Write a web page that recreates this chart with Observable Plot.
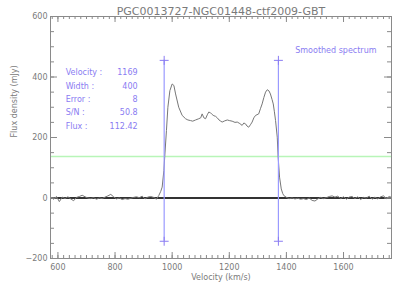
<!DOCTYPE html>
<html>
<head>
<meta charset="utf-8">
<script src="https://cdn.jsdelivr.net/npm/d3@7"></script>
<script src="https://cdn.jsdelivr.net/npm/@observablehq/plot@0.6"></script>
<style>
  html, body { margin: 0; padding: 0; background: #fff; }
</style>
</head>
<body>
<div id="chart"></div>
<script>
const title = "PGC0013727-NGC01448-ctf2009-GBT";
const xLabel = "Velocity (km/s)";
const yLabel = "Flux density (mJy)";
const legendText = "Smoothed spectrum";

const velocity = [
  575, 585, 595, 605, 615, 625, 635, 645, 655, 665, 675, 685, 695, 705, 715, 725, 735, 745, 755, 765,
  775, 785, 795, 805, 815, 825, 835, 845, 855, 865, 875, 885, 895, 905, 915, 925, 935, 945,
  953, 960, 965, 971, 974, 980, 985, 992, 1000, 1006, 1012, 1023, 1035, 1047, 1055, 1064, 1072, 1082,
  1093, 1100, 1105, 1111, 1117, 1123, 1128, 1134, 1140, 1146, 1152, 1158, 1164, 1170, 1175, 1184,
  1193, 1200, 1210, 1220, 1228, 1237, 1245, 1251, 1257, 1262, 1268, 1274, 1280, 1286, 1292, 1303,
  1309, 1315, 1321, 1327, 1333, 1339, 1344, 1350, 1354, 1358, 1362, 1368, 1371, 1376, 1382, 1387,
  1391, 1402, 1410, 1420, 1430, 1440, 1450, 1460, 1470, 1480, 1490, 1500, 1510, 1520, 1530, 1540,
  1550, 1560, 1570, 1580, 1590, 1600, 1610, 1620, 1630, 1640, 1650, 1660, 1670, 1680, 1690, 1700,
  1710, 1720, 1730, 1740, 1750, 1760, 1768
];
const flux = [
  2, -4, 5, -12, 3, -2, 4, -3, -9, 2, 5, 9, 4, 0, -2, 1, -4, 0, -2, 3,
  7, 12, 4, -3, 0, -5, -2, -4, -1, 2, 4, 1, 6, -3, 3, 5, 2, -4,
  8, 22, 36, 91, 137, 223, 300, 355, 377, 372, 344, 300, 273, 262, 258, 256, 254, 258,
  262, 265, 278, 265, 262, 275, 284, 282, 276, 272, 270, 265, 258, 254, 251, 255,
  258, 256, 254, 250, 251, 246, 240, 248, 245, 238, 234, 242, 251, 265, 273, 278,
  295, 311, 332, 350, 358, 354, 344, 325, 311, 285, 256, 201, 137, 69, 30, 15,
  8, 1, -2, 0, -3, -1, -4, -2, -5, 0, -8, -10, -3, 2, -2, 1,
  5, 7, 3, 6, -2, 4, -4, 3, 5, -2, 4, -5, 2, 0, 6, -4,
  3, -3, 4, 7, -2, 5, 2
];

const markerVel = [972, 1372];
const markerFlux = [-143, 455];
const thresholdFlux = 137;

const statLabels = ["Velocity :", "Width :", "Error :", "S/N :", "Flux :"];
const statValues = ["1169", "400", "8", "50.8", "112.42"];

const xDomain = [574, 1768];
const yDomain = [-200, 600];
const xMajor = [600, 800, 1000, 1200, 1400, 1600];
const xMinor = d3.range(580, 1769, 20);
const yMajor = [-200, 0, 200, 400, 600];
const yMinor = d3.range(-200, 601, 50);

const spectrum = velocity.map((v, i) => ({v, f: flux[i]}));

const W = 407, H = 291, mL = 50, mR = 16, mT = 16, mB = 33;
const pw = W - mL - mR, ph = H - mT - mB;
const axisColor = "#8a8a8a";
const textColor = "#7a7a7a";
const purple = "#8a7cf2";
const lineBlue = "#9a9aff";

const statY = statLabels.map((d, i) => 415 - i * 44.6);

const chart = Plot.plot({
  width: W, height: H,
  marginLeft: mL, marginRight: mR, marginTop: mT, marginBottom: mB,
  style: {fontFamily: "DejaVu Sans", fontSize: "8px", color: textColor, background: "#fff"},
  x: {domain: xDomain},
  y: {domain: yDomain},
  marks: [
    Plot.ruleY([thresholdFlux], {stroke: "#b8f5b8", strokeWidth: 1.5}),
    Plot.ruleY([0], {stroke: "#333", strokeWidth: 2}),
    Plot.line(spectrum, {x: "v", y: "f", stroke: "#777", strokeWidth: 1}),
    Plot.ruleX(markerVel, {x: d => d, y1: markerFlux[0], y2: markerFlux[1], stroke: lineBlue, strokeWidth: 1.2}),
    Plot.dot(markerVel.flatMap(v => markerFlux.map(f => ({v, f}))), {x: "v", y: "f", symbol: "plus", r: 3, stroke: purple, strokeWidth: 1}),
    Plot.frame({stroke: axisColor, strokeWidth: 1}),
    Plot.ruleX(xMajor, {x: d => d, insetTop: ph - 6, stroke: axisColor}),
    Plot.ruleX(xMinor, {x: d => d, insetTop: ph - 3, stroke: axisColor}),
    Plot.ruleX(xMajor, {x: d => d, insetBottom: ph - 6, stroke: axisColor}),
    Plot.ruleX(xMinor, {x: d => d, insetBottom: ph - 3, stroke: axisColor}),
    Plot.ruleY(yMajor, {y: d => d, insetRight: pw - 7, stroke: axisColor}),
    Plot.ruleY(yMinor, {y: d => d, insetRight: pw - 4, stroke: axisColor}),
    Plot.ruleY(yMajor, {y: d => d, insetLeft: pw - 7, stroke: axisColor}),
    Plot.ruleY(yMinor, {y: d => d, insetLeft: pw - 4, stroke: axisColor}),
    Plot.axisX({ticks: xMajor, tickSize: 0, tickPadding: 6, label: null, fontSize: 8, tickFormat: d => String(d)}),
    Plot.axisY({ticks: yMajor, tickSize: 0, tickPadding: 3, label: null, fontSize: 8, tickFormat: d => d < 0 ? "\u2212" + Math.abs(d) : String(d)}),
    Plot.text([title], {frameAnchor: "top", dy: -9, fontSize: 11, fill: textColor}),
    Plot.text([xLabel], {frameAnchor: "bottom", dy: 21, fontSize: 8, fill: textColor}),
    Plot.text([yLabel], {frameAnchor: "left", dx: -36, rotate: -90, fontSize: 8, fill: textColor}),
    Plot.text([legendText], {frameAnchor: "top-right", dx: -15, dy: 31, textAnchor: "end", fontSize: 8, fill: purple}),
    Plot.text(statLabels, {x: 627, y: (d, i) => statY[i], text: d => d, textAnchor: "start", fontSize: 8, fill: purple}),
    Plot.text(statValues, {x: 879, y: (d, i) => statY[i], text: d => d, textAnchor: "end", fontSize: 8, fill: purple})
  ]
});
document.getElementById("chart").appendChild(chart);
</script>
</body>
</html>
